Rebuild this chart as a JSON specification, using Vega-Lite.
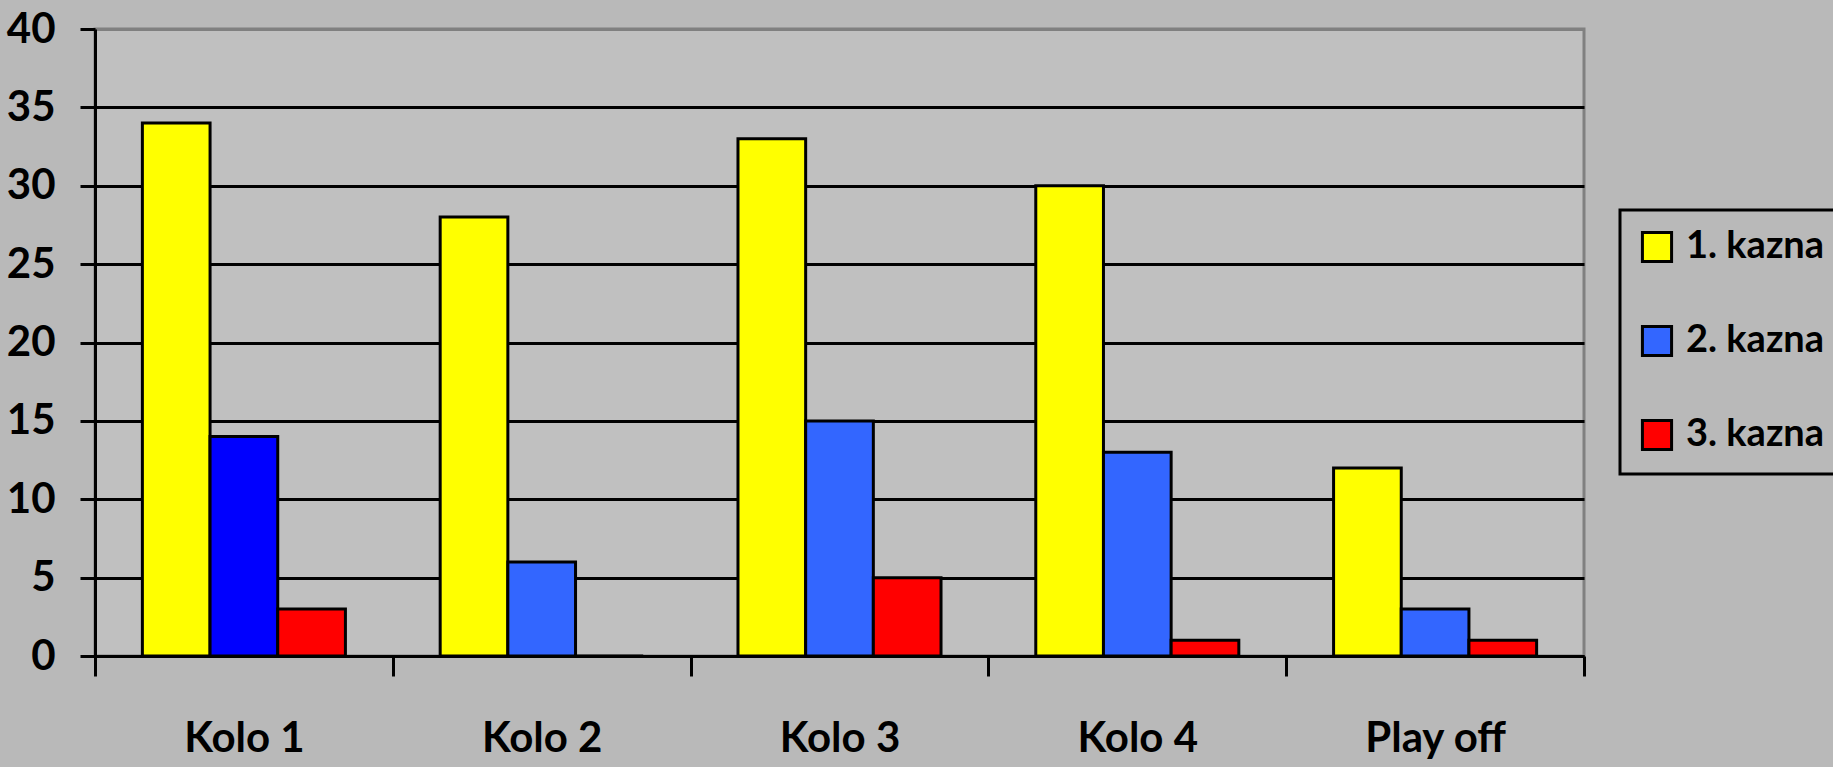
{
  "$schema": "https://vega.github.io/schema/vega-lite/v6.json",
  "width": 1489,
  "height": 627,
  "autosize": "none",
  "padding": {"left": 95, "top": 29, "right": 249, "bottom": 111},
  "background": "#b9b9b9",
  "data": {
    "values": [
      {"kolo": "Kolo 1", "series": "1. kazna", "value": 34},
      {"kolo": "Kolo 1", "series": "2. kazna", "value": 14},
      {"kolo": "Kolo 1", "series": "3. kazna", "value": 3},
      {"kolo": "Kolo 2", "series": "1. kazna", "value": 28},
      {"kolo": "Kolo 2", "series": "2. kazna", "value": 6},
      {"kolo": "Kolo 2", "series": "3. kazna", "value": 0},
      {"kolo": "Kolo 3", "series": "1. kazna", "value": 33},
      {"kolo": "Kolo 3", "series": "2. kazna", "value": 15},
      {"kolo": "Kolo 3", "series": "3. kazna", "value": 5},
      {"kolo": "Kolo 4", "series": "1. kazna", "value": 30},
      {"kolo": "Kolo 4", "series": "2. kazna", "value": 13},
      {"kolo": "Kolo 4", "series": "3. kazna", "value": 1},
      {"kolo": "Play off", "series": "1. kazna", "value": 12},
      {"kolo": "Play off", "series": "2. kazna", "value": 3},
      {"kolo": "Play off", "series": "3. kazna", "value": 1}
    ]
  },
  "config": {
    "font": "Lato, sans-serif",
    "view": {"fill": "#c0c0c0", "stroke": "#808080", "strokeWidth": 3},
    "legend": {"strokeColor": "black", "strokeWidth": 3, "padding": 18}
  },
  "mark": {"type": "bar", "stroke": "black", "strokeWidth": 3},
  "encoding": {
    "x": {
      "field": "kolo",
      "type": "nominal",
      "scale": {"paddingInner": 0, "paddingOuter": 0},
      "axis": {
        "title": null,
        "labelAngle": 0,
        "labelFont": "Lato, sans-serif",
        "labelFontSize": 42,
        "labelFontWeight": "bold",
        "labelColor": "black",
        "labelPadding": 42,
        "tickBand": "extent",
        "tickSize": 20,
        "tickWidth": 3,
        "tickColor": "black",
        "domainColor": "black",
        "domainWidth": 3,
        "grid": false
      }
    },
    "xOffset": {"field": "series", "type": "nominal", "scale": {"paddingInner": 0, "paddingOuter": 0.7}},
    "y": {
      "field": "value",
      "type": "quantitative",
      "scale": {"domain": [0, 40], "nice": false},
      "axis": {
        "title": null,
        "values": [0, 5, 10, 15, 20, 25, 30, 35, 40],
        "labelFont": "Lato, sans-serif",
        "labelFontSize": 42,
        "labelFontWeight": "bold",
        "labelColor": "black",
        "labelPadding": 25,
        "tickSize": 15,
        "tickWidth": 3,
        "tickColor": "black",
        "domainColor": "black",
        "domainWidth": 3,
        "grid": true,
        "gridWidth": 3,
        "gridOpacity": 1,
        "gridColor": {"condition": {"test": "datum.value == 40", "value": "#808080"}, "value": "black"}
      }
    },
    "color": {
      "condition": {"test": "datum.kolo == 'Kolo 1' && datum.series == '2. kazna'", "value": "#0000ff"},
      "field": "series",
      "type": "nominal",
      "scale": {"domain": ["1. kazna", "2. kazna", "3. kazna"], "range": ["#ffff00", "#3366ff", "#ff0000"]},
      "legend": {
        "title": null,
        "orient": "none",
        "legendX": 1525,
        "legendY": 181,
        "direction": "vertical",
        "symbolType": "square",
        "symbolSize": 850,
        "symbolStrokeColor": "black",
        "symbolStrokeWidth": 3,
        "symbolOpacity": 1,
        "labelFont": "Lato, sans-serif",
        "labelFontSize": 38,
        "labelFontWeight": "bold",
        "labelColor": "black",
        "labelOffset": 10,
        "labelLimit": 400,
        "rowPadding": 52
      }
    }
  }
}
